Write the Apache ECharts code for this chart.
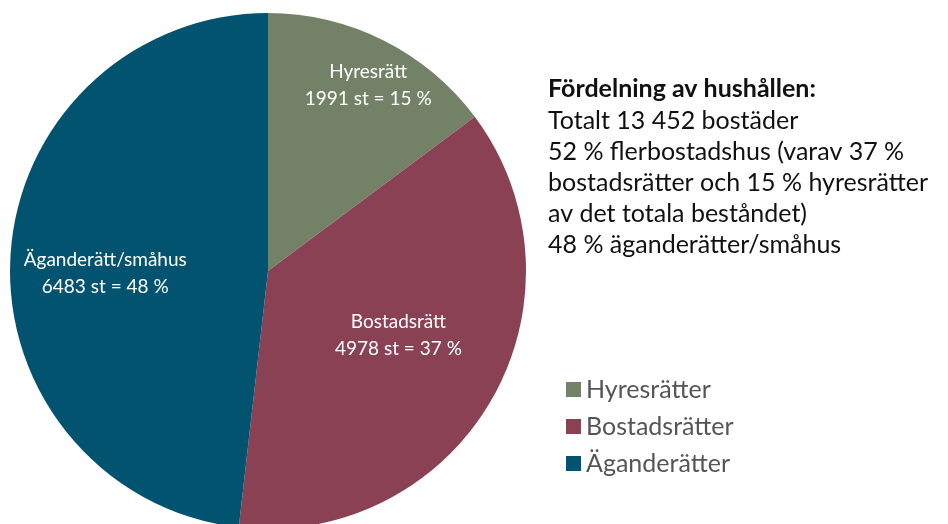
<!DOCTYPE html>
<html>
<head>
    <meta charset="UTF-8">
    <title>pie</title>
    <script src="https://cdn.jsdelivr.net/npm/echarts@6/dist/echarts.min.js"></script>
    <style>
        *{margin:0;padding:0}
        html,body{width:100%;height:100%;background:#fff}
        #main{width:948px;height:524px}
    </style>
</head>
<body>
<div id="main"></div>
<script type="text/javascript">
    // kategorier och värden
    var categories = ['Hyresrätter', 'Bostadsrätter', 'Äganderätter'];
    var sliceNames = ['Hyresrätt', 'Bostadsrätt', 'Äganderätt/småhus'];
    var counts = [1991, 4978, 6483];
    var percents = [15, 37, 48];
    var colors = ['#738267', '#8a4153', '#02536f'];
    // label offset från "inside"-läget
    var labelOffsets = [[41, -68], [16, -1], [-31, 10]];

    var infoTitle = 'Fördelning av hushållen:';
    var infoLines = [
        'Totalt 13 452 bostäder',
        '52 % flerbostadshus (varav 37 %',
        'bostadsrätter och 15 % hyresrätter',
        'av det totala beståndet)',
        '48 % äganderätter/småhus'
    ];

    var font = 'Lato, "Noto Sans", sans-serif';

    var dataList = [];
    for (var i = 0; i < categories.length; i++) {
        dataList.push({
            name: categories[i],
            value: counts[i],
            itemStyle: {color: colors[i]},
            label: {
                offset: labelOffsets[i],
                formatter: sliceNames[i] + '\n' + counts[i] + ' st = ' + percents[i] + ' %'
            }
        });
    }

    var myChart = echarts.init(document.getElementById('main'));

    var option = {
        animation: false,
        title: {
            text: infoTitle,
            subtext: infoLines.join('\n'),
            left: 543,
            top: 71,
            itemGap: 4,
            textStyle: {
                fontFamily: font,
                fontSize: 25,
                fontWeight: 'bold',
                color: '#111'
            },
            subtextStyle: {
                fontFamily: font,
                fontSize: 25,
                lineHeight: 31,
                color: '#111'
            }
        },
        legend: {
            orient: 'vertical',
            left: 561,
            top: 372,
            icon: 'rect',
            itemWidth: 15,
            itemHeight: 15,
            itemGap: 12,
            textStyle: {
                fontFamily: font,
                fontSize: 25,
                color: '#555'
            },
            data: categories
        },
        series: [
            {
                type: 'pie',
                center: [268, 271],
                radius: 258,
                startAngle: 90,
                clockwise: true,
                silent: true,
                data: dataList,
                label: {
                    show: true,
                    position: 'inside',
                    color: '#fff',
                    fontFamily: font,
                    fontSize: 19,
                    lineHeight: 27,
                    align: 'center'
                },
                labelLine: {show: false},
                itemStyle: {borderWidth: 0}
            }
        ]
    };

    myChart.setOption(option);
</script>
</body>
</html>
